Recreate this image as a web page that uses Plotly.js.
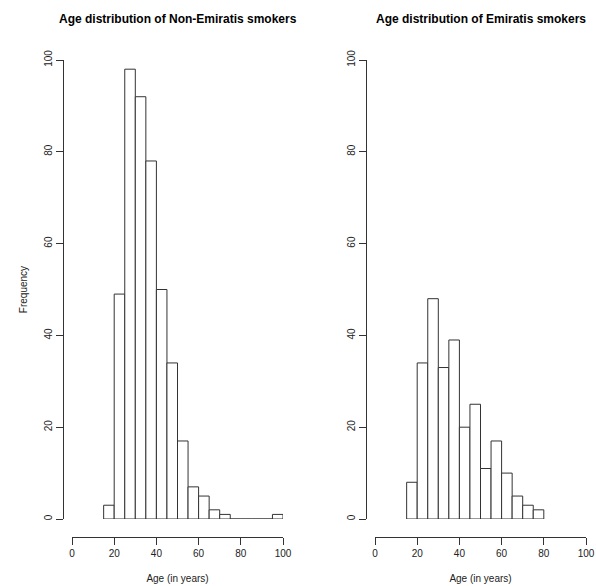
<!DOCTYPE html>
<html>
<head>
<meta charset="utf-8">
<script src="https://cdn.plot.ly/plotly-3.0.1.min.js"></script>
<style>html,body{margin:0;padding:0;background:#fff;}</style>
</head>
<body>
<div id="chart" style="width:596px;height:586px;"></div>
<script>
// Bin start ages (bins 5 years wide)
const nonEmiratiBins = [15,20,25,30,35,40,45,50,55,60,65,70,75,80,85,90,95];
const nonEmiratiCounts = [3,49,98,92,78,50,34,17,7,5,2,1,0,0,0,0,1];
const emiratiBins = [15,20,25,30,35,40,45,50,55,60,65,70,75];
const emiratiCounts = [8,34,48,33,39,20,25,11,17,10,5,3,2];
const binWidth = 5;
const xTicks = [0,20,40,60,80,100];
const yTicks = [0,20,40,60,80,100];
const titles = ["Age distribution of Non-Emiratis smokers", "Age distribution of Emiratis smokers"];

const lineCol = '#333';
function barTrace(x, y, xa, ya) {
  return {
    type: 'bar', x: x, y: y, xaxis: xa, yaxis: ya,
    width: binWidth, offset: 0,
    marker: {color: '#ffffff', line: {color: lineCol, width: 1}},
    cliponaxis: false, hoverinfo: 'x+y'
  };
}
const data = [
  barTrace(nonEmiratiBins, nonEmiratiCounts, 'x', 'y'),
  barTrace(emiratiBins, emiratiCounts, 'x2', 'y2')
];

const font = {family: 'Liberation Sans, Arial, sans-serif', size: 10, color: '#222'};
function xAxis(dom) {
  return {
    domain: dom, range: [0,100], anchor: 'free', position: 1 - 537/586,
    showline: true, linecolor: lineCol, linewidth: 1,
    ticks: 'outside', ticklen: 7, tickcolor: lineCol, tickwidth: 1,
    tickvals: xTicks, ticktext: xTicks.map(String),
    showgrid: false, zeroline: false, tickfont: font,
    title: {text: 'Age (in years)', font: font, standoff: 16}
  };
}
function yAxis(pos, title) {
  return {
    domain: [1 - 519/586, 1 - 60/586], range: [0,100], anchor: 'free', position: pos,
    showline: true, linecolor: lineCol, linewidth: 1,
    ticks: 'outside', ticklen: 7, tickcolor: lineCol, tickwidth: 1,
    tickvals: yTicks, ticktext: yTicks.map(String), tickangle: -90,
    showgrid: false, zeroline: false, tickfont: font,
    title: {text: title, font: font, standoff: 12}
  };
}

const titleFont = {family: 'Liberation Sans, Arial, sans-serif', size: 12, color: '#000'};
const layout = {
  width: 596, height: 586,
  margin: {l: 0, r: 0, t: 0, b: 0},
  paper_bgcolor: '#fff', plot_bgcolor: '#fff',
  showlegend: false, bargap: 0,
  font: font,
  xaxis: xAxis([72/596, 283/596]),
  yaxis: yAxis(63/596, 'Frequency'),
  xaxis2: xAxis([375/596, 586/596]),
  yaxis2: yAxis(366/596, ''),
  annotations: [
    {text: '<b>' + titles[0] + '</b>', xref: 'paper', yref: 'paper', x: 177.5/596, y: 1 - 19/586,
     showarrow: false, xanchor: 'center', yanchor: 'middle', font: titleFont},
    {text: '<b>' + titles[1] + '</b>', xref: 'paper', yref: 'paper', x: 480.5/596, y: 1 - 19/586,
     showarrow: false, xanchor: 'center', yanchor: 'middle', font: titleFont}
  ]
};

Plotly.newPlot('chart', data, layout, {displayModeBar: false, staticPlot: true});
</script>
</body>
</html>
